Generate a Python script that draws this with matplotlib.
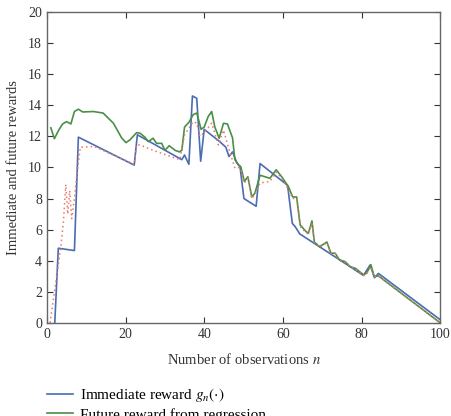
import matplotlib.pyplot as plt

# Immediate reward g_n(.)
n_imm = [2, 2.9, 7, 8, 22.2, 23, 34.3, 35, 36.1, 37, 38.1, 39.1, 40, 44, 45.5, 46.3,
         47.2, 48.3, 49.1, 50.1, 53.2, 54.2, 61.2, 62.4, 63.1, 64.3, 69.3, 80.5, 82.2,
         83.3, 84.3, 100]
v_imm = [0, 4.8, 4.65, 11.95, 10.15, 12.1, 10.5, 10.8, 10.2, 14.6, 14.45, 10.4, 12.45,
         11.65, 11.3, 10.7, 11.0, 10.3, 10.05, 8.0, 7.5, 10.25, 8.85, 6.4, 6.2, 5.72, 4.9,
         3.05, 3.73, 2.9, 3.18, 0.2]

# Future reward from regression
n_fut = [1, 1.9, 3, 4, 5, 6.1, 7, 8, 9.1, 11.8, 14.3, 16.9, 19, 20.1, 21.1, 22.8, 23.7,
         24.9, 25.8, 27, 27.9, 29.2, 30, 31.1, 32.6, 33.7, 34.3, 35, 36.1, 37.2, 38.1,
         38.7, 39.2, 40, 41, 41.9, 42.7, 43.8, 44.9, 45.9, 47.2, 47.8, 48.7, 49.3, 50.2,
         51.1, 52.1, 52.9, 54.2, 56.7, 58.3, 59.7, 61.4, 62.5, 63.5, 64.4, 65.9, 66.5,
         67.4, 68, 69.3, 71.2, 72.2, 73.3, 74.4, 75.8, 77.1, 78.5, 80.5, 81.3, 82.4, 83.2,
         84.3, 100]
v_fut = [12.55, 11.85, 12.4, 12.8, 12.95, 12.8, 13.6, 13.75, 13.57, 13.6, 13.5, 12.85,
         11.9, 11.6, 11.77, 12.24, 12.2, 11.95, 11.66, 11.88, 11.55, 11.55, 11.1, 11.4,
         11.1, 11.0, 11.1, 12.6, 12.9, 13.4, 13.5, 12.95, 12.45, 12.6, 13.27, 13.6, 12.6,
         11.88, 12.84, 12.8, 11.9, 10.5, 10.16, 10.05, 9.1, 9.4, 8.1, 8.35, 9.5, 9.3,
         9.85, 9.4, 8.77, 8.1, 8.1, 6.3, 5.87, 5.77, 6.56, 5.2, 4.9, 5.2, 4.48, 4.48,
         4.05, 3.94, 3.62, 3.5, 3.09, 3.2, 3.73, 2.98, 3.02, 0.0]

# third series (dotted)
n_oth = [0.8, 3.5, 4.2, 4.8, 5.3, 5.8, 6.3, 7.0, 7.6, 8.5, 12, 22.2, 22.8, 23.7, 27,
         33.8, 35, 37.2, 38.1, 38.9, 40.2, 41.9, 43.6, 44.9, 46.1, 47.8, 48.7, 49.3,
         50.2, 51.1, 52.1, 52.9, 54.2, 56.7, 58.4, 59.7, 61.4, 62.5, 63.5, 64.4, 65.9,
         66.5, 67.4, 68, 69.3, 71.2, 72.2, 73.3, 74.4, 75.8, 77.1, 78.5, 80.5, 81.3,
         82.4, 83.2, 84.3, 100]
v_oth = [0, 4.8, 6.5, 8.9, 7.0, 8.5, 6.7, 8.0, 9.5, 11.3, 11.35, 10.2, 11.45, 11.45,
         11.1, 10.5, 12.1, 12.95, 12.85, 12.0, 12.3, 12.85, 11.45, 12.4, 11.34, 9.95,
         10.0, 9.9, 9.0, 9.3, 8.0, 8.3, 9.0, 9.1, 9.7, 9.3, 8.6, 8.0, 8.0, 6.2, 5.8, 5.7,
         6.4, 5.2, 4.85, 5.15, 4.45, 4.45, 4.0, 3.9, 3.6, 3.45, 3.05, 3.15, 3.6, 2.95,
         3.0, 0.0]

x_ticks = [0, 20, 40, 60, 80, 100]
y_ticks = list(range(0, 21, 2))

plt.rcParams['font.family'] = ['Liberation Serif', 'DejaVu Serif']
plt.rcParams['mathtext.fontset'] = 'stix'

fig = plt.figure(figsize=(4.51, 4.16), dpi=100)
ax = fig.add_axes([0.104, 0.224, 0.872, 0.747])

l1, = ax.plot(n_imm, v_imm, color='#4a6cb3', lw=1.2, label=r'Immediate reward $g_n(\cdot)$')
l2, = ax.plot(n_fut, v_fut, color='#4a8f46', lw=1.2, label='Future reward from regression')
ax.plot(n_oth, v_oth, color='#e8786a', lw=1.1, ls=(0, (1, 2)))

ax.set_xlim(0, 100)
ax.set_ylim(0, 20)
ax.set_xticks(x_ticks)
ax.set_yticks(y_ticks)
ax.tick_params(direction='in', top=True, right=True, length=4, labelsize=10,
               colors='#333333', width=0.8)
for s in ax.spines.values():
    s.set_color('#666666')
    s.set_linewidth(1.0)

ax.set_xlabel(r'Number of observations $n$', fontsize=10.5, color='#333333', labelpad=8)
ax.set_ylabel('Immediate and future rewards', fontsize=10.5, color='#333333', labelpad=6)

fig.legend(handles=[l1, l2], loc='upper left', bbox_to_anchor=(0.091, 0.087),
           frameon=False, fontsize=11, handlelength=1.7, handletextpad=0.45,
           labelspacing=0.25, borderaxespad=0)

fig.savefig('out.png', dpi=100)
